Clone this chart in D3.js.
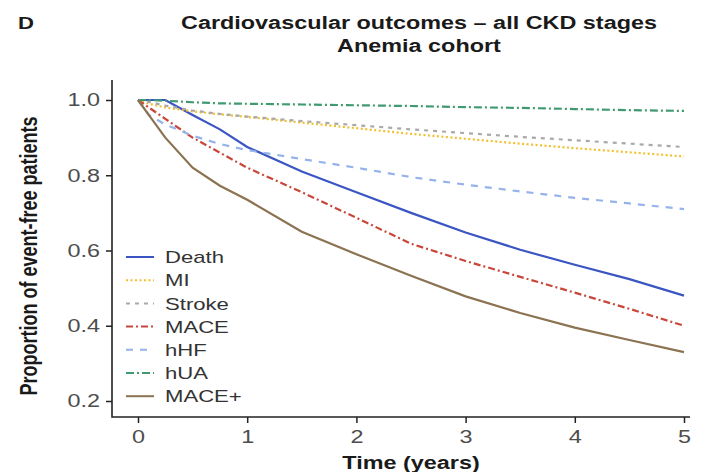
<!DOCTYPE html>
<html lang="en">
  <head>
    <meta charset="UTF-8" />
    <title>Cardiovascular outcomes – Anemia cohort</title>
    <script src="https://d3js.org/d3.v7.min.js"></script>
    <style>
      body {
        margin: 0;
        background: #fff;
      }
      svg text {
        font-family: "Liberation Sans", Arial, Helvetica, sans-serif;
      }
    </style>
  </head>
  <body>
    <div id="chart"></div>
    <script>
      // years since index
      const time = [0, 0.1, 0.25, 0.5, 0.75, 1, 1.5, 2, 2.5, 3, 3.5, 4, 4.5, 5];

      // proportion event-free
      const death = [1, 1, 1, 0.96, 0.922, 0.875, 0.81, 0.755, 0.7, 0.648, 0.602, 0.562, 0.524, 0.48];
      const mi = [1, 0.99, 0.98, 0.97, 0.962, 0.955, 0.94, 0.925, 0.91, 0.897, 0.884, 0.872, 0.861, 0.85];
      const stroke = [1, 0.995, 0.985, 0.972, 0.963, 0.956, 0.944, 0.933, 0.922, 0.912, 0.902, 0.893, 0.884, 0.875];
      const mace = [1, 0.98, 0.95, 0.9, 0.86, 0.82, 0.755, 0.687, 0.618, 0.572, 0.53, 0.488, 0.445, 0.4];
      const hhf = [1, 0.96, 0.935, 0.905, 0.883, 0.867, 0.843, 0.82, 0.795, 0.775, 0.757, 0.74, 0.725, 0.71];
      const hua = [1, 1, 0.998, 0.994, 0.991, 0.99, 0.988, 0.986, 0.984, 0.981, 0.979, 0.976, 0.973, 0.971];
      const macePlus = [1, 0.96, 0.9, 0.82, 0.772, 0.735, 0.65, 0.59, 0.533, 0.478, 0.434, 0.395, 0.362, 0.33];

      const seriesNames = ["Death", "MI", "Stroke", "MACE", "hHF", "hUA", "MACE+"];
      const seriesValues = [death, mi, stroke, mace, hhf, hua, macePlus];

      const xTicks = [0, 1, 2, 3, 4, 5];
      const yTicks = [0.2, 0.4, 0.6, 0.8, 1.0];

      const styles = {
        Death: { color: "#3b55c2", dash: null },
        MI: { color: "#f2c02e", dash: "2,2.5" },
        Stroke: { color: "#a9a9a9", dash: "4,5" },
        MACE: { color: "#c8473a", dash: "7,3,2,3" },
        hHF: { color: "#95b3ea", dash: "7,7" },
        hUA: { color: "#3f9a6f", dash: "8,3,2,3" },
        "MACE+": { color: "#8b7352", dash: null },
      };

      const width = 705;
      const height = 472;
      // the figure is stretched sideways compared with its lettering
      const SX = 1.3;

      const svg = d3
        .select("#chart")
        .append("svg")
        .attr("width", width)
        .attr("height", height);

      const x = d3.scaleLinear().domain([0, 5]).range([138, 684]);
      const y = d3.scaleLinear().domain([0.2, 1]).range([401, 100]);

      function stretch(sel) {
        sel.each(function () {
          const len = this.getComputedTextLength();
          d3.select(this)
            .attr("textLength", len * SX)
            .attr("lengthAdjust", "spacingAndGlyphs");
        });
      }

      // titles
      svg
        .append("text")
        .attr("x", 18)
        .attr("y", 29)
        .style("font-size", "17px")
        .style("font-weight", "bold")
        .attr("fill", "#1a1a1a")
        .text("D")
        .call(stretch);

      svg
        .selectAll("text.title")
        .data(["Cardiovascular outcomes – all CKD stages", "Anemia cohort"])
        .join("text")
        .attr("class", "title")
        .attr("x", 419)
        .attr("y", (d, i) => 29 + i * 23)
        .attr("text-anchor", "middle")
        .style("font-size", "18px")
        .style("font-weight", "bold")
        .attr("fill", "#1a1a1a")
        .text((d) => d)
        .call(stretch);

      // axes
      const xAxis = svg
        .append("g")
        .attr("transform", "translate(0,417)")
        .call(d3.axisBottom(x).tickValues(xTicks).tickFormat(d3.format("d")).tickSize(6).tickPadding(7));
      const yAxis = svg
        .append("g")
        .attr("transform", "translate(112,0)")
        .call(d3.axisLeft(y).tickValues(yTicks).tickFormat(d3.format(".1f")).tickSize(6).tickPadding(6));

      [xAxis, yAxis].forEach((g) => {
        g.select(".domain").remove();
        g.selectAll(".tick line").attr("stroke", "#222").attr("stroke-width", 1.5);
        g.selectAll(".tick text")
          .style("font-size", "18px")
          .style("font-family", "'Liberation Sans', Arial, sans-serif")
          .attr("fill", "#4d4d4d")
          .call(stretch);
      });

      svg
        .append("path")
        .attr("d", "M112,80V417H690")
        .attr("fill", "none")
        .attr("stroke", "#222")
        .attr("stroke-width", 1.6);

      svg
        .append("text")
        .attr("x", 411)
        .attr("y", 469)
        .attr("text-anchor", "middle")
        .style("font-size", "18px")
        .style("font-weight", "bold")
        .attr("fill", "#1a1a1a")
        .text("Time (years)")
        .call(stretch);

      svg
        .append("text")
        .attr("transform", `translate(37,256) scale(${SX},1) rotate(-90)`)
        .attr("text-anchor", "middle")
        .style("font-size", "18px")
        .style("font-weight", "bold")
        .attr("fill", "#1a1a1a")
        .text("Proportion of event-free patients");

      // curves
      const line = d3
        .line()
        .x((d) => x(d[0]))
        .y((d) => y(d[1]));

      const series = seriesNames.map((name, i) => ({
        name,
        points: time.map((t, j) => [t, seriesValues[i][j]]),
      }));

      svg
        .append("g")
        .selectAll("path")
        .data(series)
        .join("path")
        .attr("d", (d) => line(d.points))
        .attr("fill", "none")
        .attr("stroke", (d) => styles[d.name].color)
        .attr("stroke-width", 2.2)
        .attr("stroke-dasharray", (d) => styles[d.name].dash);

      // legend
      const legend = svg
        .append("g")
        .selectAll("g")
        .data(seriesNames)
        .join("g")
        .attr("transform", (d, i) => `translate(126,${257 + i * 23.2})`);

      legend
        .append("line")
        .attr("x1", 0)
        .attr("x2", 28)
        .attr("stroke", (d) => styles[d].color)
        .attr("stroke-width", 2)
        .attr("stroke-dasharray", (d) => styles[d].dash);

      legend
        .append("text")
        .attr("x", 39)
        .attr("dy", "0.36em")
        .style("font-size", "17px")
        .attr("fill", "#333")
        .text((d) => d)
        .call(stretch);
    </script>
  </body>
</html>
